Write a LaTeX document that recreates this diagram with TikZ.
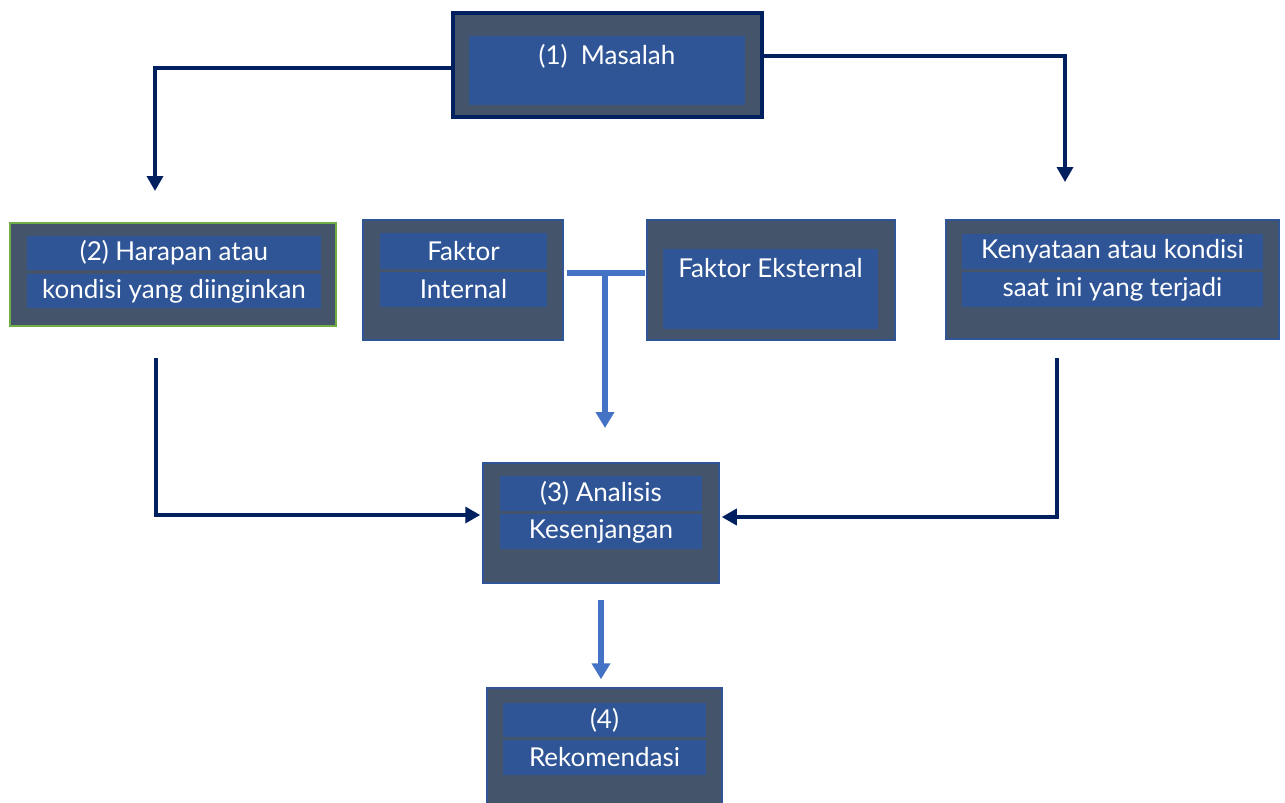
\documentclass[tikz,border=0pt]{standalone}
\usepackage{fontspec}
\setmainfont{Lato}
\usetikzlibrary{arrows.meta,positioning}
\definecolor{navyline}{HTML}{002060}
\definecolor{slatefill}{HTML}{44546A}
\definecolor{barblue}{HTML}{2F5597}
\definecolor{lightarrow}{HTML}{4472C4}
\definecolor{greenedge}{HTML}{70AD47}
\tikzset{
  outerbox/.style={draw=barblue, line width=1.5pt, fill=slatefill, inner sep=0pt},
  bar/.style={fill=barblue, inner sep=0pt, text=white, font=\fontsize{26}{30}\selectfont},
  lbl/.style={inner sep=0pt, text=white, font=\fontsize{26}{30}\selectfont},
  navyarrow/.style={draw=navyline, line width=3.5pt, -{Triangle[width=16pt,length=15pt]}},
  blueline/.style={draw=lightarrow, line width=5.5pt},
  bluearrow/.style={blueline, -{Triangle[width=18pt,length=16pt]}}
}
\begin{document}
\begin{tikzpicture}[x=1pt,y=-1pt]
\useasboundingbox (0,0) rectangle (1285,803);
% (1) masalah
\node[outerbox, draw=navyline, line width=3.5pt, minimum width=309pt, minimum height=104pt] (masalah) at (607.5,65) {};
\node[bar, minimum width=276pt, minimum height=69pt] (masalahbar) at (607,70.5) {};
\node[lbl] (masalahtxt) at (607,56) {(1)\ \ Masalah};
% (2) harapan
\node[outerbox, draw=greenedge, line width=2pt, minimum width=326pt, minimum height=103pt] (harapan) at (173,274.5) {};
\node[bar, minimum width=294pt, minimum height=34pt] (harapan1) at (174,253) {(2) Harapan atau};
\node[bar, minimum width=294pt, minimum height=34pt] (harapan2) at (174,291) {kondisi yang diinginkan};
% faktor internal
\node[outerbox, minimum width=200pt, minimum height=120pt] (internal) at (463,280) {};
\node[bar, minimum width=167pt, minimum height=36pt] (internal1) at (463.5,251) {Faktor};
\node[bar, minimum width=167pt, minimum height=35pt] (internal2) at (463.5,289.5) {Internal};
% faktor eksternal
\node[outerbox, minimum width=248pt, minimum height=120pt] (eksternal) at (771,280) {};
\node[bar, minimum width=215pt, minimum height=80pt] (eksternalbar) at (770.5,289) {};
\node[lbl] (eksternaltxt) at (770.5,268) {Faktor Eksternal};
% kenyataan
\node[outerbox, minimum width=333pt, minimum height=119pt] (kenyataan) at (1112.5,279.5) {};
\node[bar, minimum width=301pt, minimum height=35pt] (kenyataan1) at (1112.5,251.5) {Kenyataan atau kondisi};
\node[bar, minimum width=301pt, minimum height=35pt] (kenyataan2) at (1112.5,289.5) {saat ini yang terjadi};
% (3) analisis
\node[outerbox, minimum width=236pt, minimum height=120pt] (analisis) at (601,523) {};
\node[bar, minimum width=202pt, minimum height=35pt] (analisis1) at (601,493.5) {(3) Analisis};
\node[bar, minimum width=202pt, minimum height=35pt] (analisis2) at (601,531.5) {Kesenjangan};
% (4) rekomendasi
\node[outerbox, minimum width=235pt, minimum height=124pt] (rekomendasi) at (604.5,750) {};
\node[bar, minimum width=203pt, minimum height=34pt] (rekomendasi1) at (604.5,720) {(4)};
\node[bar, minimum width=203pt, minimum height=35pt] (rekomendasi2) at (604.5,757.5) {Rekomendasi};
% free ends
\coordinate (harapanin) at (155,191);
\coordinate (kenyataanin) at (1065,182);
\coordinate (harapanout) at (156,358);
\coordinate (kenyataanout) at (1057,358);
\coordinate (tjoin) at (605,273);
\coordinate (ttip) at (605,428);
% connectors
\draw[navyarrow] ([yshift=-3pt]masalah.west) -| (harapanin);
\draw[navyarrow] ([yshift=9pt]masalah.east) -| (kenyataanin);
\draw[navyarrow] (harapanout) |- ([yshift=8pt,xshift=-2pt]analisis.west);
\draw[navyarrow] (kenyataanout) |- ([yshift=6pt,xshift=2pt]analisis.east);
\draw[blueline] ([xshift=3pt]internal.east |- tjoin) -- ([xshift=-1pt]eksternal.west |- tjoin);
\draw[bluearrow] (tjoin) -- (ttip);
\draw[bluearrow] ([yshift=-16pt]analisis.south) -- ([yshift=8pt]analisis.south |- rekomendasi.north);
\end{tikzpicture}
\end{document}
